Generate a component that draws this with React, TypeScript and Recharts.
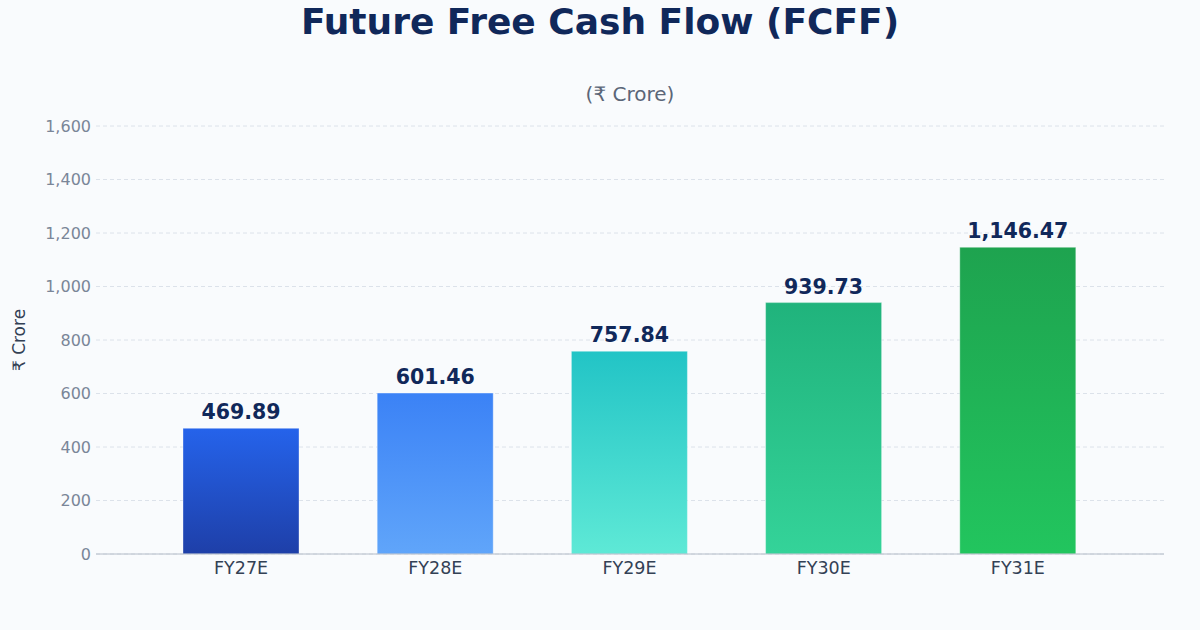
import React from "react";
import { BarChart, Bar, XAxis, YAxis, CartesianGrid, Cell, LabelList } from "recharts";

const categories = ["FY27E", "FY28E", "FY29E", "FY30E", "FY31E"];
const fcffValues = [469.89, 601.46, 757.84, 939.73, 1146.47];
const yTicks = [0, 200, 400, 600, 800, 1000, 1200, 1400, 1600];
const gradientTops = ["#2563eb", "#3b82f6", "#22c4c6", "#20b37c", "#1ea34f"];
const gradientBottoms = ["#1e3fa8", "#60a5fa", "#5ee9d6", "#34d399", "#22c55e"];

const data = categories.map((c, i) => ({ name: c, value: fcffValues[i] }));

const FONT = "'DejaVu Sans', sans-serif";

const fmt = (v: number) =>
  v.toLocaleString("en-US", { minimumFractionDigits: 2, maximumFractionDigits: 2 });

export default function App() {
  return (
    <div
      style={{
        position: "absolute",
        left: 0,
        top: 0,
        width: 1200,
        height: 630,
        background: "#f9fbfd",
        fontFamily: FONT,
        overflow: "hidden",
      }}
    >
      <div
        style={{
          position: "absolute",
          top: 0,
          left: 0,
          width: 1200,
          textAlign: "center",
          fontSize: 36,
          fontWeight: "bold",
          color: "#10285a",
          lineHeight: "44px",
        }}
      >
        Future Free Cash Flow (FCFF)
      </div>
      <div
        style={{
          position: "absolute",
          top: 81,
          left: 30,
          width: 1200,
          textAlign: "center",
          fontSize: 20,
          color: "#5b6678",
          lineHeight: "26px",
        }}
      >
        (₹ Crore)
      </div>
      <div style={{ position: "absolute", left: 0, top: 0 }}>
        <BarChart
          width={1200}
          height={630}
          data={data}
          margin={{ top: 126, right: 36, bottom: 46, left: 10 }}
        >
          <defs>
            {categories.map((c, i) => (
              <linearGradient key={c} id={`grad${i}`} x1="0" y1="0" x2="0" y2="1">
                <stop offset="0%" stopColor={gradientTops[i]} />
                <stop offset="100%" stopColor={gradientBottoms[i]} />
              </linearGradient>
            ))}
          </defs>
          <CartesianGrid vertical={false} stroke="#dce2ea" strokeDasharray="4 3" />
          <XAxis
            dataKey="name"
            height={30}
            padding={{ left: 48, right: 49 }}
            tickLine={false}
            axisLine={{ stroke: "#b4bcc8" }}
            tick={{ fill: "#334155", fontSize: 17.5, fontFamily: FONT }}
          />
          <YAxis
            width={86}
            domain={[0, 1600]}
            ticks={yTicks}
            tickFormatter={(v: number) => v.toLocaleString("en-US")}
            axisLine={false}
            tickLine={false}
            tickSize={5}
            tickMargin={0}
            tick={{ fill: "#7a8698", fontSize: 16, fontFamily: FONT }}
            label={{
              value: "₹ Crore",
              angle: -90,
              position: "insideLeft",
              offset: 0,
              dx: 9,
              style: { fill: "#334155", fontSize: 17, fontFamily: FONT, textAnchor: "middle" },
            }}
          />
          <Bar
            dataKey="value"
            barSize={116}
            isAnimationActive={false}
            stroke="rgba(255,255,255,0.35)"
            strokeWidth={1}
          >
            {data.map((d, i) => (
              <Cell key={d.name} fill={`url(#grad${i})`} />
            ))}
            <LabelList
              dataKey="value"
              position="top"
              offset={9}
              formatter={(v: number) => fmt(v)}
              style={{ fill: "#10285a", fontSize: 20.5, fontWeight: "bold", fontFamily: FONT }}
            />
          </Bar>
        </BarChart>
      </div>
    </div>
  );
}
